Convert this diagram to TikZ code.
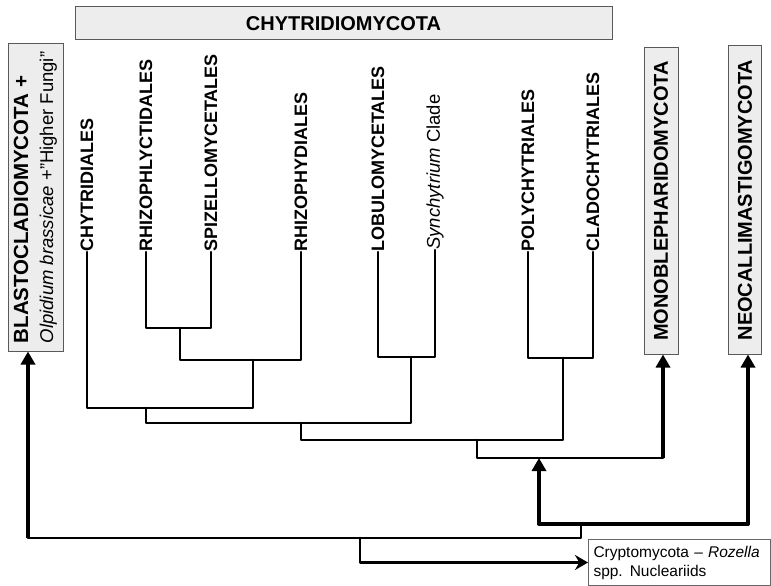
\documentclass[tikz,border=0pt]{standalone}
\usepackage{fontspec}
\setmainfont{Liberation Sans}
\usetikzlibrary{arrows.meta}
\begin{document}
\begin{tikzpicture}[x=1pt,y=-1pt,
 tree/.style={line width=2.6pt, line join=round, line cap=round},
 thk/.style={line width=4pt, line join=round},
 upar/.style={-{Triangle[width=14pt,length=13pt]}},
 rtar/.style={-{Stealth[width=15pt,length=13pt]}},
 leaf/.style={rotate=90, anchor=west, inner sep=0pt, font=\fontsize{18}{20}\selectfont\bfseries},
 clade/.style={draw=black!65, fill=black!7, line width=1pt, inner sep=0pt, font=\fontsize{20}{23}\selectfont\bfseries},
]
\useasboundingbox (0,0) rectangle (771,586);

% group boxes
\node[clade, rotate=90, minimum width=307, minimum height=55, align=left] (blasto) at (35.5,197.5)
  {{\fontsize{20.5}{23}\selectfont BLASTOCLADIOMYCOTA +}\\[2pt]{\fontsize{18.5}{23}\selectfont\mdseries\textit{Olpidium brassicae} +"Higher Fungi"}};
\node[clade, minimum width=537, minimum height=33] (chy) at (343.5,23.5) {CHYTRIDIOMYCOTA};
\node[clade, rotate=90, minimum width=306, minimum height=34] (mono) at (661,201) {MONOBLEPHARIDOMYCOTA};
\node[clade, rotate=90, minimum width=308, minimum height=33] (neo) at (745,200) {NEOCALLIMASTIGOMYCOTA};
\node[draw=black!60, fill=white, line width=1pt, anchor=north west, minimum height=46,
  text width=172, inner xsep=5, inner ysep=3, align=left, font=\fontsize{15.5}{19}\selectfont] (crypto) at (588,539)
  {Cryptomycota -- \textit{Rozella}\\spp.\hspace{7pt}Nucleariids};

% leaves
\node[leaf] (l1) at (87,252) {CHYTRIDIALES};
\node[leaf] (l2) at (146,252) {RHIZOPHLYCTIDALES};
\node[leaf] (l3) at (211,252) {SPIZELLOMYCETALES};
\node[leaf] (l4) at (301,252) {RHIZOPHYDIALES};
\node[leaf] (l5) at (378,252) {LOBULOMYCETALES};
\node[leaf, font=\fontsize{18.5}{20}\selectfont] (l6) at (435,250) {\textit{Synchytrium} Clade};
\node[leaf] (l7) at (528,252) {POLYCHYTRIALES};
\node[leaf] (l8) at (593,252) {CLADOCHYTRIALES};

% internal nodes
\coordinate (j23) at (180,328);
\coordinate (j234) at (253,360);
\coordinate (j1234) at (146,408);
\coordinate (j56) at (411,357);
\coordinate (jA) at (301,423);
\coordinate (j78) at (563,358);
\coordinate (jB) at (477,440);
\coordinate (jC) at (539,458);
\coordinate (jM) at (663,458);
\coordinate (jD) at (581,524);
\coordinate (jN) at (748,524);
\coordinate (jE) at (360,538);
\coordinate (jF) at (28,538);

\draw[tree] (l2.west) |- (j23) -| (l3.west);
\draw[tree] (j23) |- (j234) -| (l4.west);
\draw[tree] (l1.west) |- (j1234) -| (j234);
\draw[tree] (l5.west) |- (j56) -| (l6.west);
\draw[tree] (j1234) |- (jA) -| (j56);
\draw[tree] (l7.west) |- (j78) -| (l8.west);
\draw[tree] (jA) |- (jB) -| (j78);
\draw[tree] (jB) |- (jC) -- (jM);
\draw[thk,upar] (jM) -- (mono.west -| jM);
\draw[thk,upar] (jD) -| (jC);
\draw[thk,upar] (jD) -| (mono.west -| jN);
\draw[tree] (jD) |- (jE) -- (jF);
\draw[thk,upar] (jF) -- (blasto.west -| jF);
\draw[tree,rtar] (jE) |- (crypto.west);
\end{tikzpicture}
\end{document}
